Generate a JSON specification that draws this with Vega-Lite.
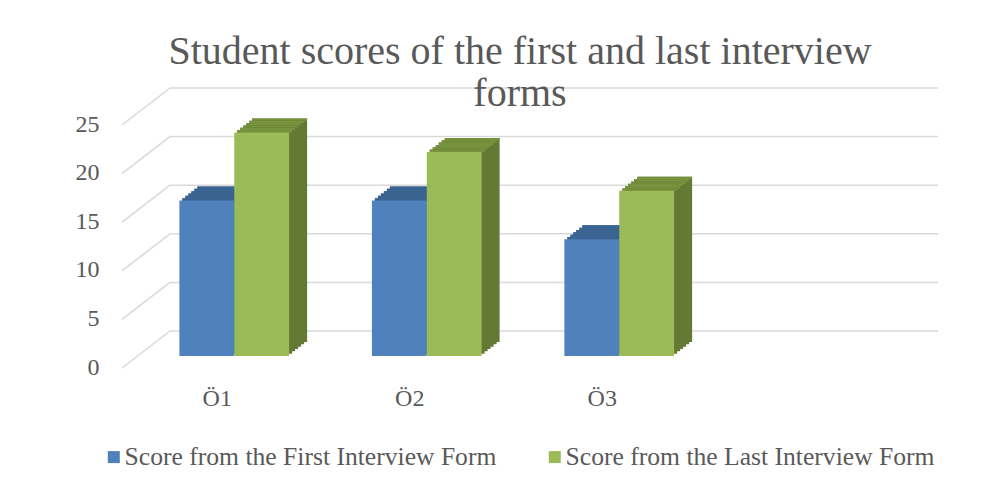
{
  "$schema": "https://vega.github.io/schema/vega-lite/v6.json",
  "width": 770,
  "height": 243,
  "autosize": {"type": "none"},
  "padding": {"left": 170, "top": 113, "right": 66, "bottom": 132},
  "background": "#ffffff",
  "title": {
    "text": ["Student scores of the first and last interview", "forms"],
    "font": "Liberation Serif",
    "fontSize": 40,
    "fontWeight": "normal",
    "color": "#595959",
    "lineHeight": 42,
    "anchor": "middle",
    "dx": -35,
    "offset": -27
  },
  "config": {
    "view": {"stroke": null},
    "axisY": {"grid": false, "tickOffset": -25, "labelOffset": 36, "domain": false, "ticks": false, "tickSize": 0, "labelPadding": 71, "labelFont": "Liberation Serif", "labelFontSize": 24, "labelColor": "#595959", "labelBaseline": "middle", "labelAlign": "right"},
    "axisX": {"grid": false, "domain": false, "ticks": false, "tickSize": 0, "labelPadding": 30, "labelOffset": -17, "labelFont": "Liberation Serif", "labelFontSize": 24, "labelColor": "#595959", "labelAngle": 0}
  },
  "datasets": {
    "scores": [
      {"cat": "Ö1", "series": "Score from the First Interview Form", "value": 16},
      {"cat": "Ö1", "series": "Score from the Last Interview Form", "value": 23},
      {"cat": "Ö2", "series": "Score from the First Interview Form", "value": 16},
      {"cat": "Ö2", "series": "Score from the Last Interview Form", "value": 21},
      {"cat": "Ö3", "series": "Score from the First Interview Form", "value": 12},
      {"cat": "Ö3", "series": "Score from the Last Interview Form", "value": 17}
    ],
    "ticks": [{"tick": 0}, {"tick": 5}, {"tick": 10}, {"tick": 15}, {"tick": 20}, {"tick": 25}]
  },
  "resolve": {"scale": {"color": "independent", "x": "independent", "xOffset": "independent"}},
  "layer": [
    {
      "data": {"name": "ticks"},
      "mark": {"type": "rule", "color": "#d9d9d9", "strokeWidth": 1.5, "yOffset": 12, "y2Offset": -25},
      "encoding": {
        "y": {"field": "tick", "type": "quantitative", "scale": {"domain": [0, 25], "nice": false}, "axis": {"title": null, "values": [0, 5, 10, 15, 20, 25]}},
        "y2": {"field": "tick"},
        "x": {"value": -48},
        "x2": {"value": 0}
      }
    },
    {
      "data": {"name": "ticks"},
      "mark": {"type": "rule", "color": "#d9d9d9", "strokeWidth": 1.5, "yOffset": -25},
      "encoding": {
        "y": {"field": "tick", "type": "quantitative", "scale": {"domain": [0, 25], "nice": false}, "axis": {"title": null, "values": [0, 5, 10, 15, 20, 25]}},
        "x": {"value": 0},
        "x2": {"value": 768}
      }
    },
    {
      "data": {"name": "scores"},
      "mark": {"type": "bar", "yOffset": -14, "y2Offset": -14},
      "encoding": {
        "x": {"field": "cat", "type": "nominal", "scale": {"domain": ["Ö1", "Ö2", "Ö3", ""], "range": [-14, 756], "paddingInner": 0.43, "paddingOuter": 0.215}, "axis": null},
        "xOffset": {"field": "series", "type": "nominal", "scale": {"domain": ["Score from the First Interview Form", "Score from the Last Interview Form"], "paddingInner": 0, "paddingOuter": 0}},
        "y": {"field": "value", "type": "quantitative", "stack": null, "scale": {"domain": [0, 25], "nice": false}, "axis": {"title": null, "values": [0, 5, 10, 15, 20, 25]}},
        "y2": {"datum": 0},
        "color": {"field": "series", "type": "nominal", "scale": {"domain": ["Score from the First Interview Form", "Score from the Last Interview Form"], "range": ["#375d88", "#647a34"]}, "legend": null}
      }
    },
    {
      "data": {"name": "scores"},
      "mark": {"type": "bar", "yOffset": -14, "y2Offset": -11.667},
      "encoding": {
        "x": {"field": "cat", "type": "nominal", "scale": {"domain": ["Ö1", "Ö2", "Ö3", ""], "range": [-14, 756], "paddingInner": 0.43, "paddingOuter": 0.215}, "axis": null},
        "xOffset": {"field": "series", "type": "nominal", "scale": {"domain": ["Score from the First Interview Form", "Score from the Last Interview Form"], "paddingInner": 0, "paddingOuter": 0}},
        "y": {"field": "value", "type": "quantitative", "stack": null, "scale": {"domain": [0, 25], "nice": false}, "axis": {"title": null, "values": [0, 5, 10, 15, 20, 25]}},
        "y2": {"field": "value"},
        "color": {"field": "series", "type": "nominal", "scale": {"domain": ["Score from the First Interview Form", "Score from the Last Interview Form"], "range": ["#3b6493", "#76923c"]}, "legend": null}
      }
    },
    {
      "data": {"name": "scores"},
      "mark": {"type": "bar", "yOffset": -11.667, "y2Offset": -11.667},
      "encoding": {
        "x": {"field": "cat", "type": "nominal", "scale": {"domain": ["Ö1", "Ö2", "Ö3", ""], "range": [-17, 753], "paddingInner": 0.43, "paddingOuter": 0.215}, "axis": null},
        "xOffset": {"field": "series", "type": "nominal", "scale": {"domain": ["Score from the First Interview Form", "Score from the Last Interview Form"], "paddingInner": 0, "paddingOuter": 0}},
        "y": {"field": "value", "type": "quantitative", "stack": null, "scale": {"domain": [0, 25], "nice": false}, "axis": {"title": null, "values": [0, 5, 10, 15, 20, 25]}},
        "y2": {"datum": 0},
        "color": {"field": "series", "type": "nominal", "scale": {"domain": ["Score from the First Interview Form", "Score from the Last Interview Form"], "range": ["#375d88", "#647a34"]}, "legend": null}
      }
    },
    {
      "data": {"name": "scores"},
      "mark": {"type": "bar", "yOffset": -11.667, "y2Offset": -9.333},
      "encoding": {
        "x": {"field": "cat", "type": "nominal", "scale": {"domain": ["Ö1", "Ö2", "Ö3", ""], "range": [-17, 753], "paddingInner": 0.43, "paddingOuter": 0.215}, "axis": null},
        "xOffset": {"field": "series", "type": "nominal", "scale": {"domain": ["Score from the First Interview Form", "Score from the Last Interview Form"], "paddingInner": 0, "paddingOuter": 0}},
        "y": {"field": "value", "type": "quantitative", "stack": null, "scale": {"domain": [0, 25], "nice": false}, "axis": {"title": null, "values": [0, 5, 10, 15, 20, 25]}},
        "y2": {"field": "value"},
        "color": {"field": "series", "type": "nominal", "scale": {"domain": ["Score from the First Interview Form", "Score from the Last Interview Form"], "range": ["#3b6493", "#76923c"]}, "legend": null}
      }
    },
    {
      "data": {"name": "scores"},
      "mark": {"type": "bar", "yOffset": -9.333, "y2Offset": -9.333},
      "encoding": {
        "x": {"field": "cat", "type": "nominal", "scale": {"domain": ["Ö1", "Ö2", "Ö3", ""], "range": [-20, 750], "paddingInner": 0.43, "paddingOuter": 0.215}, "axis": null},
        "xOffset": {"field": "series", "type": "nominal", "scale": {"domain": ["Score from the First Interview Form", "Score from the Last Interview Form"], "paddingInner": 0, "paddingOuter": 0}},
        "y": {"field": "value", "type": "quantitative", "stack": null, "scale": {"domain": [0, 25], "nice": false}, "axis": {"title": null, "values": [0, 5, 10, 15, 20, 25]}},
        "y2": {"datum": 0},
        "color": {"field": "series", "type": "nominal", "scale": {"domain": ["Score from the First Interview Form", "Score from the Last Interview Form"], "range": ["#375d88", "#647a34"]}, "legend": null}
      }
    },
    {
      "data": {"name": "scores"},
      "mark": {"type": "bar", "yOffset": -9.333, "y2Offset": -7},
      "encoding": {
        "x": {"field": "cat", "type": "nominal", "scale": {"domain": ["Ö1", "Ö2", "Ö3", ""], "range": [-20, 750], "paddingInner": 0.43, "paddingOuter": 0.215}, "axis": null},
        "xOffset": {"field": "series", "type": "nominal", "scale": {"domain": ["Score from the First Interview Form", "Score from the Last Interview Form"], "paddingInner": 0, "paddingOuter": 0}},
        "y": {"field": "value", "type": "quantitative", "stack": null, "scale": {"domain": [0, 25], "nice": false}, "axis": {"title": null, "values": [0, 5, 10, 15, 20, 25]}},
        "y2": {"field": "value"},
        "color": {"field": "series", "type": "nominal", "scale": {"domain": ["Score from the First Interview Form", "Score from the Last Interview Form"], "range": ["#3b6493", "#76923c"]}, "legend": null}
      }
    },
    {
      "data": {"name": "scores"},
      "mark": {"type": "bar", "yOffset": -7, "y2Offset": -7},
      "encoding": {
        "x": {"field": "cat", "type": "nominal", "scale": {"domain": ["Ö1", "Ö2", "Ö3", ""], "range": [-23, 747], "paddingInner": 0.43, "paddingOuter": 0.215}, "axis": null},
        "xOffset": {"field": "series", "type": "nominal", "scale": {"domain": ["Score from the First Interview Form", "Score from the Last Interview Form"], "paddingInner": 0, "paddingOuter": 0}},
        "y": {"field": "value", "type": "quantitative", "stack": null, "scale": {"domain": [0, 25], "nice": false}, "axis": {"title": null, "values": [0, 5, 10, 15, 20, 25]}},
        "y2": {"datum": 0},
        "color": {"field": "series", "type": "nominal", "scale": {"domain": ["Score from the First Interview Form", "Score from the Last Interview Form"], "range": ["#375d88", "#647a34"]}, "legend": null}
      }
    },
    {
      "data": {"name": "scores"},
      "mark": {"type": "bar", "yOffset": -7, "y2Offset": -4.667},
      "encoding": {
        "x": {"field": "cat", "type": "nominal", "scale": {"domain": ["Ö1", "Ö2", "Ö3", ""], "range": [-23, 747], "paddingInner": 0.43, "paddingOuter": 0.215}, "axis": null},
        "xOffset": {"field": "series", "type": "nominal", "scale": {"domain": ["Score from the First Interview Form", "Score from the Last Interview Form"], "paddingInner": 0, "paddingOuter": 0}},
        "y": {"field": "value", "type": "quantitative", "stack": null, "scale": {"domain": [0, 25], "nice": false}, "axis": {"title": null, "values": [0, 5, 10, 15, 20, 25]}},
        "y2": {"field": "value"},
        "color": {"field": "series", "type": "nominal", "scale": {"domain": ["Score from the First Interview Form", "Score from the Last Interview Form"], "range": ["#3b6493", "#76923c"]}, "legend": null}
      }
    },
    {
      "data": {"name": "scores"},
      "mark": {"type": "bar", "yOffset": -4.667, "y2Offset": -4.667},
      "encoding": {
        "x": {"field": "cat", "type": "nominal", "scale": {"domain": ["Ö1", "Ö2", "Ö3", ""], "range": [-26, 744], "paddingInner": 0.43, "paddingOuter": 0.215}, "axis": null},
        "xOffset": {"field": "series", "type": "nominal", "scale": {"domain": ["Score from the First Interview Form", "Score from the Last Interview Form"], "paddingInner": 0, "paddingOuter": 0}},
        "y": {"field": "value", "type": "quantitative", "stack": null, "scale": {"domain": [0, 25], "nice": false}, "axis": {"title": null, "values": [0, 5, 10, 15, 20, 25]}},
        "y2": {"datum": 0},
        "color": {"field": "series", "type": "nominal", "scale": {"domain": ["Score from the First Interview Form", "Score from the Last Interview Form"], "range": ["#375d88", "#647a34"]}, "legend": null}
      }
    },
    {
      "data": {"name": "scores"},
      "mark": {"type": "bar", "yOffset": -4.667, "y2Offset": -2.333},
      "encoding": {
        "x": {"field": "cat", "type": "nominal", "scale": {"domain": ["Ö1", "Ö2", "Ö3", ""], "range": [-26, 744], "paddingInner": 0.43, "paddingOuter": 0.215}, "axis": null},
        "xOffset": {"field": "series", "type": "nominal", "scale": {"domain": ["Score from the First Interview Form", "Score from the Last Interview Form"], "paddingInner": 0, "paddingOuter": 0}},
        "y": {"field": "value", "type": "quantitative", "stack": null, "scale": {"domain": [0, 25], "nice": false}, "axis": {"title": null, "values": [0, 5, 10, 15, 20, 25]}},
        "y2": {"field": "value"},
        "color": {"field": "series", "type": "nominal", "scale": {"domain": ["Score from the First Interview Form", "Score from the Last Interview Form"], "range": ["#3b6493", "#76923c"]}, "legend": null}
      }
    },
    {
      "data": {"name": "scores"},
      "mark": {"type": "bar", "yOffset": -2.333, "y2Offset": -2.333},
      "encoding": {
        "x": {"field": "cat", "type": "nominal", "scale": {"domain": ["Ö1", "Ö2", "Ö3", ""], "range": [-29, 741], "paddingInner": 0.43, "paddingOuter": 0.215}, "axis": null},
        "xOffset": {"field": "series", "type": "nominal", "scale": {"domain": ["Score from the First Interview Form", "Score from the Last Interview Form"], "paddingInner": 0, "paddingOuter": 0}},
        "y": {"field": "value", "type": "quantitative", "stack": null, "scale": {"domain": [0, 25], "nice": false}, "axis": {"title": null, "values": [0, 5, 10, 15, 20, 25]}},
        "y2": {"datum": 0},
        "color": {"field": "series", "type": "nominal", "scale": {"domain": ["Score from the First Interview Form", "Score from the Last Interview Form"], "range": ["#375d88", "#647a34"]}, "legend": null}
      }
    },
    {
      "data": {"name": "scores"},
      "mark": {"type": "bar", "yOffset": -2.333, "y2Offset": 0},
      "encoding": {
        "x": {"field": "cat", "type": "nominal", "scale": {"domain": ["Ö1", "Ö2", "Ö3", ""], "range": [-29, 741], "paddingInner": 0.43, "paddingOuter": 0.215}, "axis": null},
        "xOffset": {"field": "series", "type": "nominal", "scale": {"domain": ["Score from the First Interview Form", "Score from the Last Interview Form"], "paddingInner": 0, "paddingOuter": 0}},
        "y": {"field": "value", "type": "quantitative", "stack": null, "scale": {"domain": [0, 25], "nice": false}, "axis": {"title": null, "values": [0, 5, 10, 15, 20, 25]}},
        "y2": {"field": "value"},
        "color": {"field": "series", "type": "nominal", "scale": {"domain": ["Score from the First Interview Form", "Score from the Last Interview Form"], "range": ["#3b6493", "#76923c"]}, "legend": null}
      }
    },
    {
      "data": {"name": "scores"},
      "mark": {"type": "bar"},
      "encoding": {
        "x": {"field": "cat", "type": "nominal", "scale": {"domain": ["Ö1", "Ö2", "Ö3", ""], "range": [-32, 738], "paddingInner": 0.43, "paddingOuter": 0.215}, "axis": {"title": null}},
        "xOffset": {"field": "series", "type": "nominal", "scale": {"domain": ["Score from the First Interview Form", "Score from the Last Interview Form"], "paddingInner": 0, "paddingOuter": 0}},
        "y": {"field": "value", "type": "quantitative", "stack": null, "scale": {"domain": [0, 25], "nice": false}, "axis": {"title": null, "values": [0, 5, 10, 15, 20, 25]}},
        "y2": {"datum": 0},
        "color": {
          "field": "series",
          "type": "nominal",
          "scale": {"domain": ["Score from the First Interview Form", "Score from the Last Interview Form"], "range": ["#4f81bd", "#9bbb59"]},
          "legend": {"orient": "none", "legendX": -69, "legendY": 331, "direction": "horizontal", "title": null, "symbolType": "square", "symbolSize": 144, "symbolStrokeWidth": 0, "labelFont": "Liberation Serif", "labelFontSize": 25.6, "labelColor": "#595959", "labelLimit": 0, "labelOffset": -2, "columnPadding": 45, "padding": 0}
        }
      }
    }
  ]
}
